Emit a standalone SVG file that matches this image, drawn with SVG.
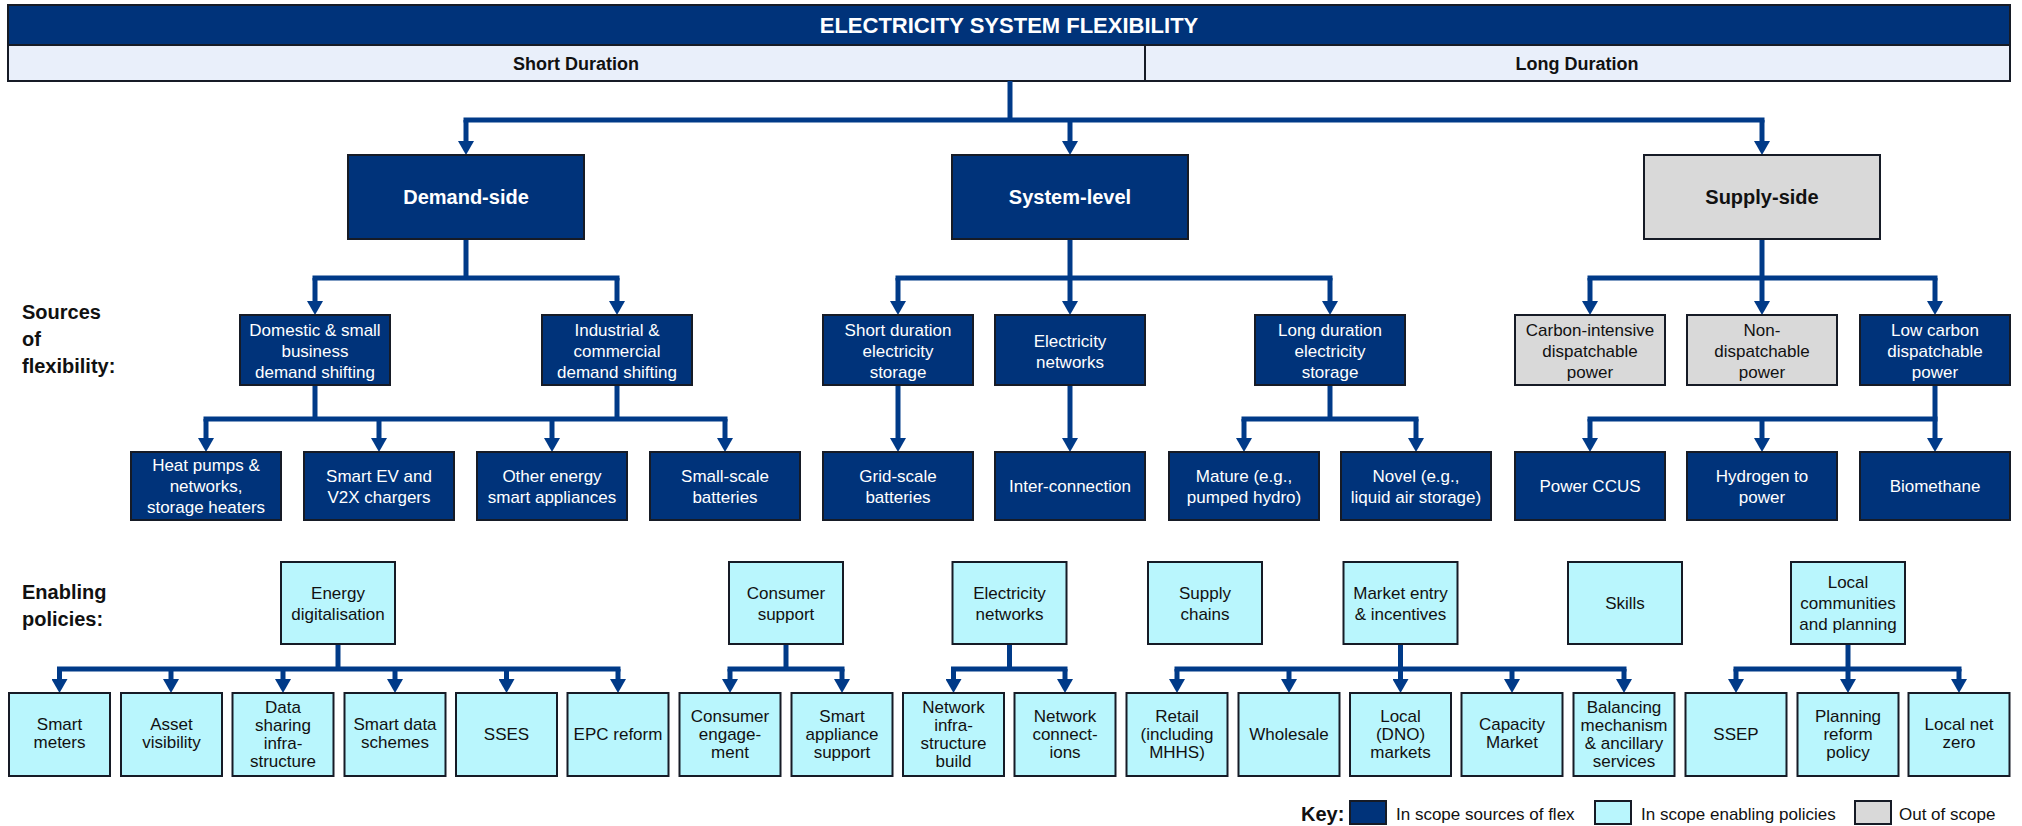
<svg xmlns="http://www.w3.org/2000/svg" width="2022" height="826" viewBox="0 0 2022 826">
<defs>
<style>
text{font-family:"Liberation Sans",Arial,sans-serif;text-anchor:middle}
.dk{fill:#00337A;stroke:#161b26;stroke-width:2}
.lt{fill:#B9F6FD;stroke:#161b26;stroke-width:2}
.gy{fill:#D9D9D9;stroke:#161b26;stroke-width:2}
.sub{fill:#E9EFFA;stroke:#161b26;stroke-width:2}
.tw{fill:#ffffff;font-size:17px}
.tb{fill:#111111;font-size:17px}
.hw{fill:#ffffff;font-size:20px;font-weight:bold}
.hb{fill:#111111;font-size:20px;font-weight:bold}
.lbl{fill:#111111;font-size:20px;font-weight:bold;text-anchor:start}
.key{fill:#111111;font-size:17px;text-anchor:start}
.c{fill:none;stroke:#003A88;stroke-width:5}
.bus{fill:none;stroke:#003A88;stroke-width:5;stroke-linecap:square}
.ar{fill:none;stroke:#003A88;stroke-width:5;marker-end:url(#ah)}
</style>
<marker id="ah" markerUnits="userSpaceOnUse" markerWidth="14" markerHeight="16" viewBox="0 0 14 16" refX="4" refY="8" orient="auto"><path d="M0,0 L14,8 L0,16 z" fill="#003A88"/></marker>
</defs>
<rect width="2022" height="826" fill="#ffffff"/>

<g id="header">
<rect class="dk" x="8" y="5" width="2002" height="40"/>
<text x="1009" y="33" style="fill:#fff;font-size:22px;font-weight:bold">ELECTRICITY SYSTEM FLEXIBILITY</text>
<rect class="sub" x="8" y="45" width="2002" height="36"/>
<line x1="1145" y1="45" x2="1145" y2="81" stroke="#161b26" stroke-width="2"/>
<text x="576" y="70" style="fill:#111;font-size:18px;font-weight:bold">Short Duration</text>
<text x="1577" y="70" style="fill:#111;font-size:18px;font-weight:bold">Long Duration</text>
</g>

<g id="labels">
<text class="lbl" x="22" y="319">Sources</text>
<text class="lbl" x="22" y="346">of</text>
<text class="lbl" x="22" y="373">flexibility:</text>
<text class="lbl" x="22" y="599">Enabling</text>
<text class="lbl" x="22" y="626">policies:</text>
</g>

<g id="connectors">
<path class="c" d="M1010,81 V120"/>
<path class="bus" d="M466,120 H1762"/>
<path class="ar" d="M466,120 V145"/>
<path class="ar" d="M1070,120 V145"/>
<path class="ar" d="M1762,120 V145"/>

<path class="c" d="M466,239 V278"/>
<path class="bus" d="M315,278 H617"/>
<path class="ar" d="M315,278 V305"/>
<path class="ar" d="M617,278 V305"/>
<path class="c" d="M1070,239 V278"/>
<path class="bus" d="M898,278 H1330"/>
<path class="ar" d="M898,278 V305"/>
<path class="ar" d="M1070,278 V305"/>
<path class="ar" d="M1330,278 V305"/>
<path class="c" d="M1762,239 V278"/>
<path class="bus" d="M1590,278 H1935"/>
<path class="ar" d="M1590,278 V305"/>
<path class="ar" d="M1762,278 V305"/>
<path class="ar" d="M1935,278 V305"/>

<path class="c" d="M315,385 V419"/>
<path class="c" d="M617,385 V419"/>
<path class="bus" d="M206,419 H725"/>
<path class="ar" d="M206,419 V442"/>
<path class="ar" d="M379,419 V442"/>
<path class="ar" d="M552,419 V442"/>
<path class="ar" d="M725,419 V442"/>
<path class="ar" d="M898,385 V442"/>
<path class="ar" d="M1070,385 V442"/>
<path class="c" d="M1330,385 V419"/>
<path class="bus" d="M1244,419 H1416"/>
<path class="ar" d="M1244,419 V442"/>
<path class="ar" d="M1416,419 V442"/>
<path class="ar" d="M1935,385 V442"/>
<path class="bus" d="M1590,419 H1935"/>
<path class="ar" d="M1590,419 V442"/>
<path class="ar" d="M1762,419 V442"/>

<path class="c" d="M338,644 V669"/>
<path class="bus" d="M59.5,669 H618"/>
<path class="ar" d="M59.5,669 V683"/>
<path class="ar" d="M171,669 V683"/>
<path class="ar" d="M283,669 V683"/>
<path class="ar" d="M395,669 V683"/>
<path class="ar" d="M506.5,669 V683"/>
<path class="ar" d="M618,669 V683"/>
<path class="c" d="M786,644 V669"/>
<path class="bus" d="M730,669 H842"/>
<path class="ar" d="M730,669 V683"/>
<path class="ar" d="M842,669 V683"/>
<path class="c" d="M1009.5,644 V669"/>
<path class="bus" d="M953.5,669 H1065"/>
<path class="ar" d="M953.5,669 V683"/>
<path class="ar" d="M1065,669 V683"/>
<path class="c" d="M1400.5,644 V669"/>
<path class="bus" d="M1177,669 H1624"/>
<path class="ar" d="M1177,669 V683"/>
<path class="ar" d="M1289,669 V683"/>
<path class="ar" d="M1400.5,669 V683"/>
<path class="ar" d="M1512,669 V683"/>
<path class="ar" d="M1624,669 V683"/>
<path class="c" d="M1848,644 V669"/>
<path class="bus" d="M1736,669 H1959"/>
<path class="ar" d="M1736,669 V683"/>
<path class="ar" d="M1848,669 V683"/>
<path class="ar" d="M1959,669 V683"/>
</g>

<g id="demand-side"><rect class="dk" x="348" y="155" width="236" height="84"/><text class="hw" x="466" y="204">Demand-side</text></g>
<g id="system-level"><rect class="dk" x="952" y="155" width="236" height="84"/><text class="hw" x="1070" y="204">System-level</text></g>
<g id="supply-side"><rect class="gy" x="1644" y="155" width="236" height="84"/><text class="hb" x="1762" y="204">Supply-side</text></g>

<g id="domestic"><rect class="dk" x="240" y="315" width="150" height="70"/><text class="tw"><tspan x="315" y="336">Domestic &amp; small</tspan><tspan x="315" y="357">business</tspan><tspan x="315" y="378">demand shifting</tspan></text></g>
<g id="industrial"><rect class="dk" x="542" y="315" width="150" height="70"/><text class="tw"><tspan x="617" y="336">Industrial &amp;</tspan><tspan x="617" y="357">commercial</tspan><tspan x="617" y="378">demand shifting</tspan></text></g>
<g id="short-storage"><rect class="dk" x="823" y="315" width="150" height="70"/><text class="tw"><tspan x="898" y="336">Short duration</tspan><tspan x="898" y="357">electricity</tspan><tspan x="898" y="378">storage</tspan></text></g>
<g id="elec-networks"><rect class="dk" x="995" y="315" width="150" height="70"/><text class="tw"><tspan x="1070" y="346.5">Electricity</tspan><tspan x="1070" y="367.5">networks</tspan></text></g>
<g id="long-storage"><rect class="dk" x="1255" y="315" width="150" height="70"/><text class="tw"><tspan x="1330" y="336">Long duration</tspan><tspan x="1330" y="357">electricity</tspan><tspan x="1330" y="378">storage</tspan></text></g>
<g id="carbon-intensive"><rect class="gy" x="1515" y="315" width="150" height="70"/><text class="tb"><tspan x="1590" y="336">Carbon-intensive</tspan><tspan x="1590" y="357">dispatchable</tspan><tspan x="1590" y="378">power</tspan></text></g>
<g id="non-dispatchable"><rect class="gy" x="1687" y="315" width="150" height="70"/><text class="tb"><tspan x="1762" y="336">Non-</tspan><tspan x="1762" y="357">dispatchable</tspan><tspan x="1762" y="378">power</tspan></text></g>
<g id="low-carbon"><rect class="dk" x="1860" y="315" width="150" height="70"/><text class="tw"><tspan x="1935" y="336">Low carbon</tspan><tspan x="1935" y="357">dispatchable</tspan><tspan x="1935" y="378">power</tspan></text></g>

<g id="heat-pumps"><rect class="dk" x="131" y="452" width="150" height="68"/><text class="tw"><tspan x="206" y="471">Heat pumps &amp;</tspan><tspan x="206" y="492">networks,</tspan><tspan x="206" y="513">storage heaters</tspan></text></g>
<g id="smart-ev"><rect class="dk" x="304" y="452" width="150" height="68"/><text class="tw"><tspan x="379" y="481.5">Smart EV and</tspan><tspan x="379" y="502.5">V2X chargers</tspan></text></g>
<g id="other-energy"><rect class="dk" x="477" y="452" width="150" height="68"/><text class="tw"><tspan x="552" y="481.5">Other energy</tspan><tspan x="552" y="502.5">smart appliances</tspan></text></g>
<g id="small-batteries"><rect class="dk" x="650" y="452" width="150" height="68"/><text class="tw"><tspan x="725" y="481.5">Small-scale</tspan><tspan x="725" y="502.5">batteries</tspan></text></g>
<g id="grid-batteries"><rect class="dk" x="823" y="452" width="150" height="68"/><text class="tw"><tspan x="898" y="481.5">Grid-scale</tspan><tspan x="898" y="502.5">batteries</tspan></text></g>
<g id="interconnection"><rect class="dk" x="995" y="452" width="150" height="68"/><text class="tw" x="1070" y="492">Inter-connection</text></g>
<g id="mature"><rect class="dk" x="1169" y="452" width="150" height="68"/><text class="tw"><tspan x="1244" y="481.5">Mature (e.g.,</tspan><tspan x="1244" y="502.5">pumped hydro)</tspan></text></g>
<g id="novel"><rect class="dk" x="1341" y="452" width="150" height="68"/><text class="tw"><tspan x="1416" y="481.5">Novel (e.g.,</tspan><tspan x="1416" y="502.5">liquid air storage)</tspan></text></g>
<g id="power-ccus"><rect class="dk" x="1515" y="452" width="150" height="68"/><text class="tw" x="1590" y="492">Power CCUS</text></g>
<g id="hydrogen"><rect class="dk" x="1687" y="452" width="150" height="68"/><text class="tw"><tspan x="1762" y="481.5">Hydrogen to</tspan><tspan x="1762" y="502.5">power</tspan></text></g>
<g id="biomethane"><rect class="dk" x="1860" y="452" width="150" height="68"/><text class="tw" x="1935" y="492">Biomethane</text></g>

<g id="p-energy-dig"><rect class="lt" x="281" y="562" width="114" height="82"/><text class="tb"><tspan x="338" y="598.5">Energy</tspan><tspan x="338" y="619.5">digitalisation</tspan></text></g>
<g id="p-consumer"><rect class="lt" x="729" y="562" width="114" height="82"/><text class="tb"><tspan x="786" y="598.5">Consumer</tspan><tspan x="786" y="619.5">support</tspan></text></g>
<g id="p-elec-networks"><rect class="lt" x="952.5" y="562" width="114" height="82"/><text class="tb"><tspan x="1009.5" y="598.5">Electricity</tspan><tspan x="1009.5" y="619.5">networks</tspan></text></g>
<g id="p-supply-chains"><rect class="lt" x="1148" y="562" width="114" height="82"/><text class="tb"><tspan x="1205" y="598.5">Supply</tspan><tspan x="1205" y="619.5">chains</tspan></text></g>
<g id="p-market"><rect class="lt" x="1343.5" y="562" width="114" height="82"/><text class="tb"><tspan x="1400.5" y="598.5">Market entry</tspan><tspan x="1400.5" y="619.5">&amp; incentives</tspan></text></g>
<g id="p-skills"><rect class="lt" x="1568" y="562" width="114" height="82"/><text class="tb" x="1625" y="609">Skills</text></g>
<g id="p-local"><rect class="lt" x="1791" y="562" width="114" height="82"/><text class="tb"><tspan x="1848" y="588">Local</tspan><tspan x="1848" y="609">communities</tspan><tspan x="1848" y="630">and planning</tspan></text></g>

<g id="smart-meters"><rect class="lt" x="9" y="693" width="101" height="83"/><text class="tb"><tspan x="59.5" y="730">Smart</tspan><tspan x="59.5" y="748">meters</tspan></text></g>
<g id="asset-visibility"><rect class="lt" x="121" y="693" width="101" height="83"/><text class="tb"><tspan x="171.5" y="730">Asset</tspan><tspan x="171.5" y="748">visibility</tspan></text></g>
<g id="data-sharing"><rect class="lt" x="232.5" y="693" width="101" height="83"/><text class="tb"><tspan x="283" y="713">Data</tspan><tspan x="283" y="731">sharing</tspan><tspan x="283" y="749">infra-</tspan><tspan x="283" y="767">structure</tspan></text></g>
<g id="smart-data"><rect class="lt" x="344.5" y="693" width="101" height="83"/><text class="tb"><tspan x="395" y="730">Smart data</tspan><tspan x="395" y="748">schemes</tspan></text></g>
<g id="sses"><rect class="lt" x="456" y="693" width="101" height="83"/><text class="tb" x="506.5" y="740">SSES</text></g>
<g id="epc"><rect class="lt" x="567.5" y="693" width="101" height="83"/><text class="tb" x="618" y="740">EPC reform</text></g>
<g id="consumer-engagement"><rect class="lt" x="679.5" y="693" width="101" height="83"/><text class="tb"><tspan x="730" y="722">Consumer</tspan><tspan x="730" y="740">engage-</tspan><tspan x="730" y="758">ment</tspan></text></g>
<g id="smart-appliance"><rect class="lt" x="791.5" y="693" width="101" height="83"/><text class="tb"><tspan x="842" y="722">Smart</tspan><tspan x="842" y="740">appliance</tspan><tspan x="842" y="758">support</tspan></text></g>
<g id="network-infra"><rect class="lt" x="903" y="693" width="101" height="83"/><text class="tb"><tspan x="953.5" y="713">Network</tspan><tspan x="953.5" y="731">infra-</tspan><tspan x="953.5" y="749">structure</tspan><tspan x="953.5" y="767">build</tspan></text></g>
<g id="network-connections"><rect class="lt" x="1014.5" y="693" width="101" height="83"/><text class="tb"><tspan x="1065" y="722">Network</tspan><tspan x="1065" y="740">connect-</tspan><tspan x="1065" y="758">ions</tspan></text></g>
<g id="retail"><rect class="lt" x="1126.5" y="693" width="101" height="83"/><text class="tb"><tspan x="1177" y="722">Retail</tspan><tspan x="1177" y="740">(including</tspan><tspan x="1177" y="758">MHHS)</tspan></text></g>
<g id="wholesale"><rect class="lt" x="1238.5" y="693" width="101" height="83"/><text class="tb" x="1289" y="740">Wholesale</text></g>
<g id="local-dno"><rect class="lt" x="1350" y="693" width="101" height="83"/><text class="tb"><tspan x="1400.5" y="722">Local</tspan><tspan x="1400.5" y="740">(DNO)</tspan><tspan x="1400.5" y="758">markets</tspan></text></g>
<g id="capacity-market"><rect class="lt" x="1461.5" y="693" width="101" height="83"/><text class="tb"><tspan x="1512" y="730">Capacity</tspan><tspan x="1512" y="748">Market</tspan></text></g>
<g id="balancing"><rect class="lt" x="1573.5" y="693" width="101" height="83"/><text class="tb"><tspan x="1624" y="713">Balancing</tspan><tspan x="1624" y="731">mechanism</tspan><tspan x="1624" y="749">&amp; ancillary</tspan><tspan x="1624" y="767">services</tspan></text></g>
<g id="ssep"><rect class="lt" x="1685.5" y="693" width="101" height="83"/><text class="tb" x="1736" y="740">SSEP</text></g>
<g id="planning-reform"><rect class="lt" x="1797.5" y="693" width="101" height="83"/><text class="tb"><tspan x="1848" y="722">Planning</tspan><tspan x="1848" y="740">reform</tspan><tspan x="1848" y="758">policy</tspan></text></g>
<g id="local-net-zero"><rect class="lt" x="1908.5" y="693" width="101" height="83"/><text class="tb"><tspan x="1959" y="730">Local net</tspan><tspan x="1959" y="748">zero</tspan></text></g>

<g id="key">
<text x="1301" y="821" style="fill:#111;font-size:20px;font-weight:bold;text-anchor:start">Key:</text>
<rect class="dk" x="1350" y="801" width="36" height="23"/>
<text class="key" x="1396" y="820">In scope sources of flex</text>
<rect class="lt" x="1595" y="801" width="36" height="23"/>
<text class="key" x="1641" y="820">In scope enabling policies</text>
<rect class="gy" x="1855" y="801" width="36" height="23"/>
<text class="key" x="1899" y="820">Out of scope</text>
</g>
</svg>
